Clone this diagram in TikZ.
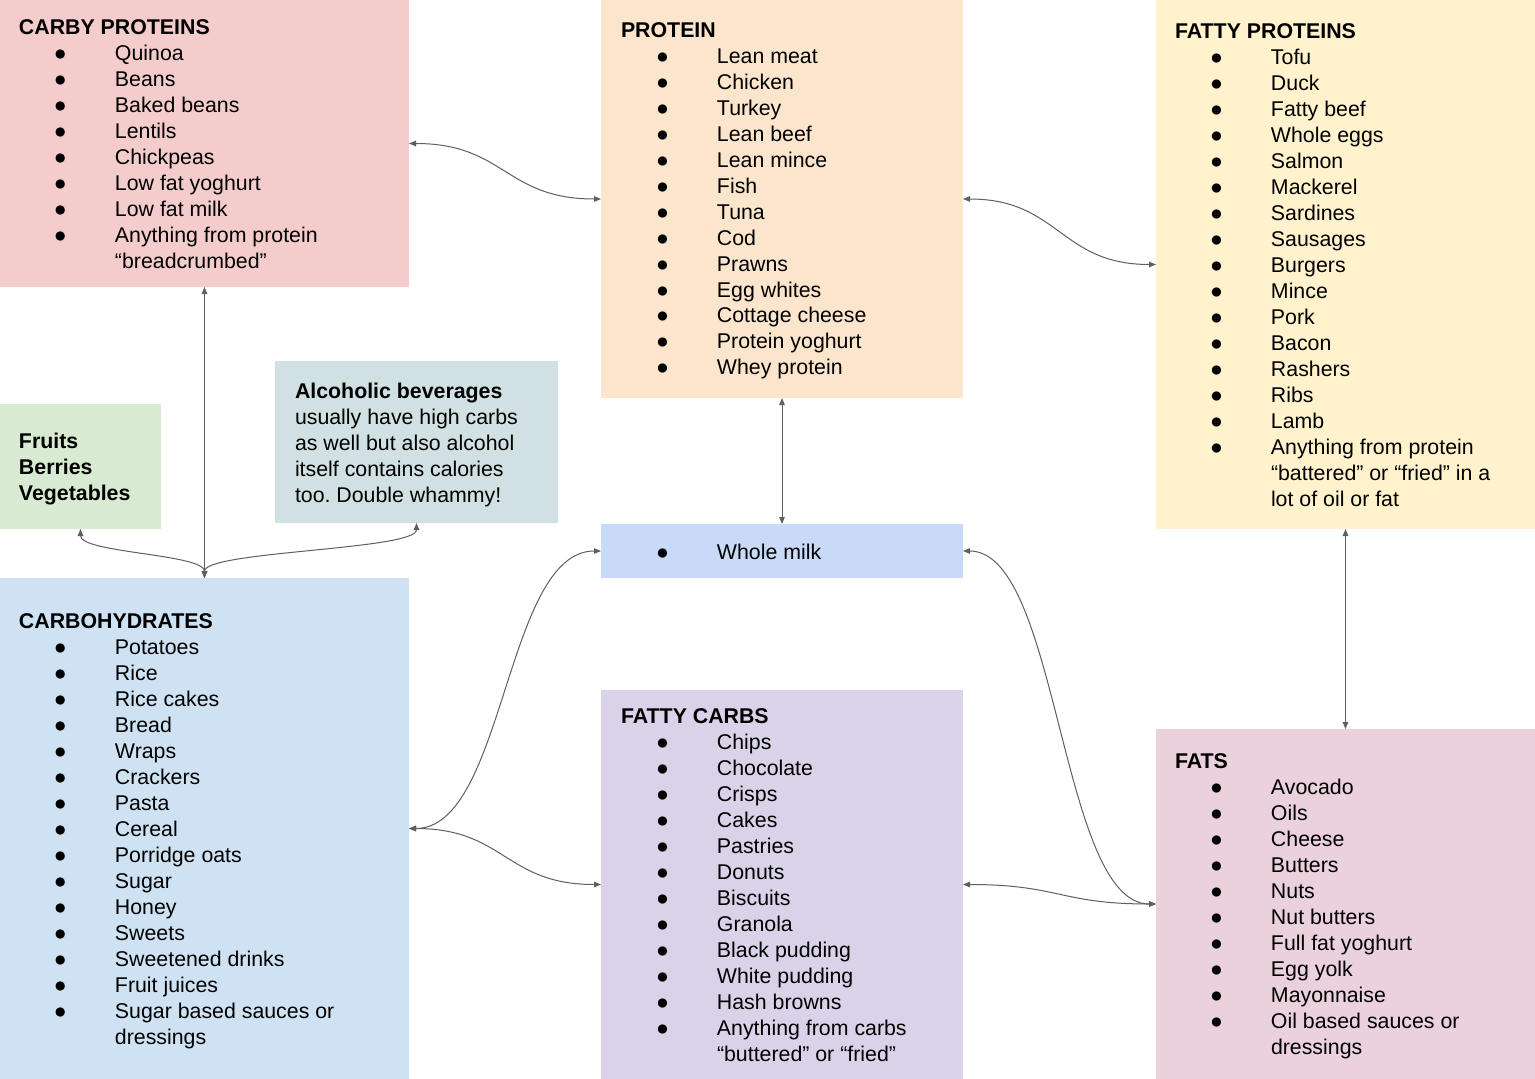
\documentclass[tikz,border=0pt]{standalone}
\usepackage{fontspec}
\setmainfont{Liberation Sans}
\usetikzlibrary{arrows.meta}
\definecolor{cpcol}{HTML}{F4CCCC}
\definecolor{prcol}{HTML}{FCE5CD}
\definecolor{fpcol}{HTML}{FFF2CC}
\definecolor{frcol}{HTML}{D9EAD3}
\definecolor{alcol}{HTML}{D0E0E3}
\definecolor{mkcol}{HTML}{C9DAF8}
\definecolor{cbcol}{HTML}{CFE2F3}
\definecolor{fccol}{HTML}{D9D2E9}
\definecolor{ftcol}{HTML}{EAD1DC}
\definecolor{linecol}{HTML}{5F5F5F}
\frenchspacing
\newcommand{\itm}[1]{&●&#1\\}
\newcommand{\cnt}[1]{&&#1\\}
\newcommand{\ttl}[1]{\multicolumn{3}{@{}l@{}}{\bfseries #1}\\}
\newenvironment{blist}{\begin{tabular}[t]{@{}p{35pt}@{}p{61pt}@{}l@{}}}{\end{tabular}}
\begin{document}
\begin{tikzpicture}[x=1pt,y=-1pt,
  box/.style={anchor=north west, inner sep=0pt, outer sep=0pt, draw=none},
  txt/.style={anchor=base west, inner sep=0pt, outer sep=0pt, font=\fontsize{21.33}{26}\selectfont},
  conn/.style={draw=linecol, line width=1pt, {Triangle[length=7pt,width=5.5pt]}-{Triangle[length=7pt,width=5.5pt]}}]
\useasboundingbox (0,0) rectangle (1535,1079);
\fill[white] (0,0) rectangle (1535,1079);
% boxes
\node[box, fill=cpcol, minimum width=409pt, minimum height=287pt] (cp) at (0,0) {};
\node[box, fill=prcol, minimum width=362pt, minimum height=398pt] (pr) at (601,0) {};
\node[box, fill=fpcol, minimum width=379pt, minimum height=529pt] (fp) at (1156,0) {};
\node[box, fill=frcol, minimum width=161pt, minimum height=125pt] (fr) at (0,404) {};
\node[box, fill=alcol, minimum width=283pt, minimum height=162pt] (al) at (275,361) {};
\node[box, fill=mkcol, minimum width=362pt, minimum height=54pt] (mk) at (601,524) {};
\node[box, fill=cbcol, minimum width=409pt, minimum height=501pt] (cb) at (0,578) {};
\node[box, fill=fccol, minimum width=362pt, minimum height=389pt] (fc) at (601,690) {};
\node[box, fill=ftcol, minimum width=379pt, minimum height=350pt] (ft) at (1156,729) {};
% connectors
\draw[conn] (cp.east) .. controls +(96,0) and +(-96,0) .. (pr.west);
\draw[conn] (pr.east) .. controls +(96,0) and +(-96,0) .. (fp.west);
\draw[conn] (pr.south) -- (mk.north);
\draw[conn] (fp.south) -- (ft.north);
\draw[conn] (cp.south) -- (cb.north);
\draw[conn] (fr.south) .. controls +(0,24) and +(0,-24) .. (cb.north);
\draw[conn] (al.south) .. controls +(0,27) and +(0,-27) .. (cb.north);
\draw[conn] (cb.east) .. controls +(96,0) and +(-96,0) .. (mk.west);
\draw[conn] (cb.east) .. controls +(96,0) and +(-96,0) .. (fc.west);
\draw[conn] (mk.east) .. controls +(96,0) and +(-96,0) .. (ft.west);
\draw[conn] (ft.west) .. controls +(-96,0) and +(96,0) .. (fc.east);
% texts
\node[txt] (cp-t) at (19,34) {\begin{blist}
\ttl{CARBY PROTEINS}
\itm{Quinoa}
\itm{Beans}
\itm{Baked beans}
\itm{Lentils}
\itm{Chickpeas}
\itm{Low fat yoghurt}
\itm{Low fat milk}
\itm{Anything from protein}
\cnt{“breadcrumbed”}
\end{blist}};
\node[txt] (pr-t) at (621,37) {\begin{blist}
\ttl{PROTEIN}
\itm{Lean meat}
\itm{Chicken}
\itm{Turkey}
\itm{Lean beef}
\itm{Lean mince}
\itm{Fish}
\itm{Tuna}
\itm{Cod}
\itm{Prawns}
\itm{Egg whites}
\itm{Cottage cheese}
\itm{Protein yoghurt}
\itm{Whey protein}
\end{blist}};
\node[txt] (fp-t) at (1175,38) {\begin{blist}
\ttl{FATTY PROTEINS}
\itm{Tofu}
\itm{Duck}
\itm{Fatty beef}
\itm{Whole eggs}
\itm{Salmon}
\itm{Mackerel}
\itm{Sardines}
\itm{Sausages}
\itm{Burgers}
\itm{Mince}
\itm{Pork}
\itm{Bacon}
\itm{Rashers}
\itm{Ribs}
\itm{Lamb}
\itm{Anything from protein}
\cnt{“battered” or “fried” in a}
\cnt{lot of oil or fat}
\end{blist}};
\node[txt] (fr-t) at (19,448) {\begin{tabular}[t]{@{}l@{}}
\bfseries Fruits\\
\bfseries Berries\\
\bfseries Vegetables\\
\end{tabular}};
\node[txt] (al-t) at (295,398) {\begin{tabular}[t]{@{}l@{}}
\bfseries Alcoholic beverages\\
usually have high carbs\\
as well but also alcohol\\
itself contains calories\\
too. Double whammy!\\
\end{tabular}};
\node[txt] (mk-t) at (621,559) {\begin{blist}
\itm{Whole milk}
\end{blist}};
\node[txt] (cb-t) at (19,628) {\begin{blist}
\ttl{CARBOHYDRATES}
\itm{Potatoes}
\itm{Rice}
\itm{Rice cakes}
\itm{Bread}
\itm{Wraps}
\itm{Crackers}
\itm{Pasta}
\itm{Cereal}
\itm{Porridge oats}
\itm{Sugar}
\itm{Honey}
\itm{Sweets}
\itm{Sweetened drinks}
\itm{Fruit juices}
\itm{Sugar based sauces or}
\cnt{dressings}
\end{blist}};
\node[txt] (fc-t) at (621,723) {\begin{blist}
\ttl{FATTY CARBS}
\itm{Chips}
\itm{Chocolate}
\itm{Crisps}
\itm{Cakes}
\itm{Pastries}
\itm{Donuts}
\itm{Biscuits}
\itm{Granola}
\itm{Black pudding}
\itm{White pudding}
\itm{Hash browns}
\itm{Anything from carbs}
\cnt{“buttered” or “fried”}
\end{blist}};
\node[txt] (ft-t) at (1175,768) {\begin{blist}
\ttl{FATS}
\itm{Avocado}
\itm{Oils}
\itm{Cheese}
\itm{Butters}
\itm{Nuts}
\itm{Nut butters}
\itm{Full fat yoghurt}
\itm{Egg yolk}
\itm{Mayonnaise}
\itm{Oil based sauces or}
\cnt{dressings}
\end{blist}};
\end{tikzpicture}
\end{document}
